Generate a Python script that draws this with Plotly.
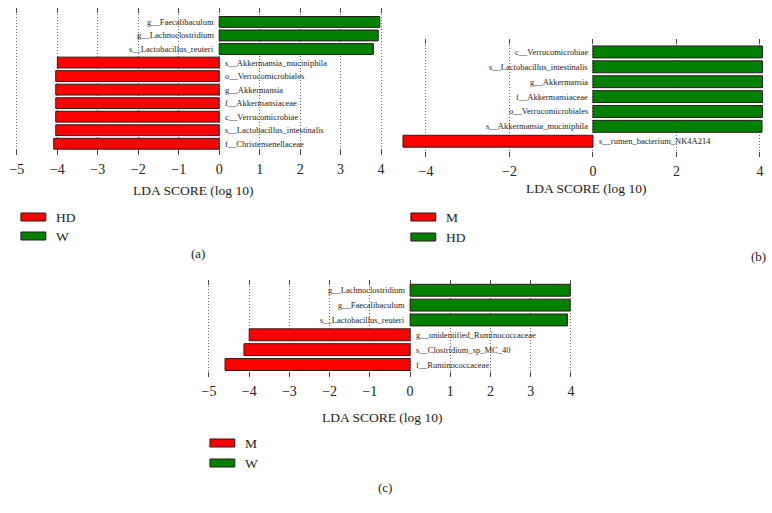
import plotly.graph_objects as go

W, H = 772, 513

# ---------------- data ----------------
a_taxa = ["g__Faecalibaculum", "g__Lachnoclostridium", "s__Lactobacillus_reuteri",
          "s__Akkermansia_muciniphila", "o__Verrucomicrobiales", "g__Akkermansia",
          "f__Akkermansiaceae", "c__Verrucomicrobiae", "s__Lactobacillus_intestinalis",
          "f__Christensenellaceae"]
a_lda = [3.97, 3.93, 3.81, -4.00, -4.04, -4.04, -4.04, -4.04, -4.04, -4.09]
a_groups = ["HD", "W"]          # [negative (red), positive (green)]
a_ticks = [-5, -4, -3, -2, -1, 0, 1, 2, 3, 4]

b_taxa = ["c__Verrucomicrobiae", "s__Lactobacillus_intestinalis", "g__Akkermansia",
          "f__Akkermansiaceae", "o__Verrucomicrobiales", "s__Akkermansia_muciniphila",
          "s__rumen_bacterium_NK4A214"]
b_lda = [4.06, 4.06, 4.06, 4.06, 4.06, 4.05, -4.55]
b_groups = ["M", "HD"]
b_ticks = [-4, -2, 0, 2, 4]

c_taxa = ["g__Lachnoclostridium", "g__Faecalibaculum", "s__Lactobacillus_reuteri",
          "g__unidentified_Ruminococcaceae", "s__Clostridium_sp_MC_40", "f__Ruminococcaceae"]
c_lda = [3.98, 3.98, 3.91, -4.00, -4.13, -4.60]
c_groups = ["M", "W"]
c_ticks = [-5, -4, -3, -2, -1, 0, 1, 2, 3, 4]

panel_tags = ["(a)", "(b)", "(c)"]
axis_title = "LDA SCORE (log 10)"

# ---------------- style ----------------
RED = "#ff0000"
GREEN = "#008000"
EDGE = "#2a1a1a"
TXT = "#222222"
FONT = "Liberation Serif, Times New Roman, serif"

# layout (pixel boxes) per panel
panels = [
    dict(taxa=a_taxa, lda=a_lda, groups=a_groups, ticks=a_ticks,
         xr=[-5.1, 4.1], box=(8.9, 383.1, 8, 155), yr=[9.83, -1.03],
         title=(190, 190), tag=(195, 253), leg=(17, 42, 217, 236)),
    dict(taxa=b_taxa, lda=b_lda, groups=b_groups, ticks=b_ticks,
         xr=[-4.65, 4.12], box=(396.9, 764.9, 39, 157), yr=[7.06, -0.87],
         title=(585, 188), tag=(758, 256), leg=(409, 434, 217, 237)),
    dict(taxa=c_taxa, lda=c_lda, groups=c_groups, ticks=c_ticks,
         xr=[-5.08, 4.1], box=(202.8, 574.0, 280, 377), yr=[5.84, -0.69],
         title=(380, 417), tag=(383, 487), leg=(207, 232, 443, 463)),
]


def fx(x):
    return x / W


def fy(y):
    return 1 - y / H


fig = go.Figure()
annotations = []
shapes = []

for i, p in enumerate(panels):
    k = "" if i == 0 else str(i + 1)
    xa, ya = "x" + k, "y" + k
    colors = [GREEN if v > 0 else RED for v in p["lda"]]
    fig.add_trace(go.Bar(
        x=p["lda"], y=p["taxa"], orientation="h",
        marker=dict(color=colors, line=dict(color=EDGE, width=1)),
        xaxis=xa, yaxis=ya, showlegend=False, hoverinfo="x+y",
    ))
    l, r, t, b = p["box"]
    fig.layout["xaxis" + k] = dict(
        domain=[fx(l), fx(r)], range=p["xr"], anchor=ya,
        tickvals=p["ticks"], showgrid=True, griddash="1px,2px", gridcolor="#666666",
        gridwidth=1, zeroline=False, showline=True, linecolor="rgba(0,0,0,0)",
        ticks="inside", ticklen=5, tickwidth=1, tickcolor="#444444", mirror="ticks",
        ticklabelstandoff=1,
        tickfont=dict(family=FONT, size=14, color=TXT), fixedrange=True,
    )
    fig.layout["yaxis" + k] = dict(
        domain=[fy(b), fy(t)], range=p["yr"], anchor=xa, type="category",
        categoryorder="array", categoryarray=p["taxa"],
        showticklabels=False, showgrid=False, zeroline=False, showline=False,
        ticks="", fixedrange=True,
    )
    # bar labels next to zero
    for name, v in zip(p["taxa"], p["lda"]):
        annotations.append(dict(
            x=0, y=name, xref=xa, yref=ya, text=name, showarrow=False,
            xanchor="right" if v > 0 else "left", yanchor="middle",
            xshift=-3 if v > 0 else 4,
            font=dict(family=FONT, size=8.5, color=TXT),
        ))
    # axis title
    tx, ty = p["title"]
    annotations.append(dict(x=fx(tx), y=fy(ty), xref="paper", yref="paper",
                            xanchor="center", yanchor="middle",
                            text=axis_title, showarrow=False,
                            font=dict(family=FONT, size=13.5, color=TXT)))
    # panel tag
    gx, gy = p["tag"]
    annotations.append(dict(x=fx(gx), y=fy(gy), xref="paper", yref="paper",
                            xanchor="center", yanchor="middle",
                            text=panel_tags[i], showarrow=False,
                            font=dict(family=FONT, size=13, color=TXT)))
    # legend
    x0, x1, y1, y2 = p["leg"]
    for gname, col, yy in zip(p["groups"], [RED, GREEN], [y1, y2]):
        shapes.append(dict(type="rect", xref="paper", yref="paper",
                           x0=fx(x0), x1=fx(x1), y0=fy(yy - 4), y1=fy(yy + 4),
                           fillcolor=col, line=dict(color=EDGE, width=1)))
        annotations.append(dict(x=fx(x1 + 8), y=fy(yy), xref="paper", yref="paper",
                                text=gname, showarrow=False,
                                xanchor="left", yanchor="middle",
                                font=dict(family=FONT, size=13.5, color=TXT)))

fig.update_layout(
    width=W, height=H, margin=dict(l=0, r=0, t=0, b=0),
    paper_bgcolor="white", plot_bgcolor="white",
    annotations=annotations, shapes=shapes, showlegend=False,
)

fig.write_html("out.html", config={"displayModeBar": False},
               post_script="document.body.style.margin='0px';"
                           "document.body.style.overflow='hidden';")
